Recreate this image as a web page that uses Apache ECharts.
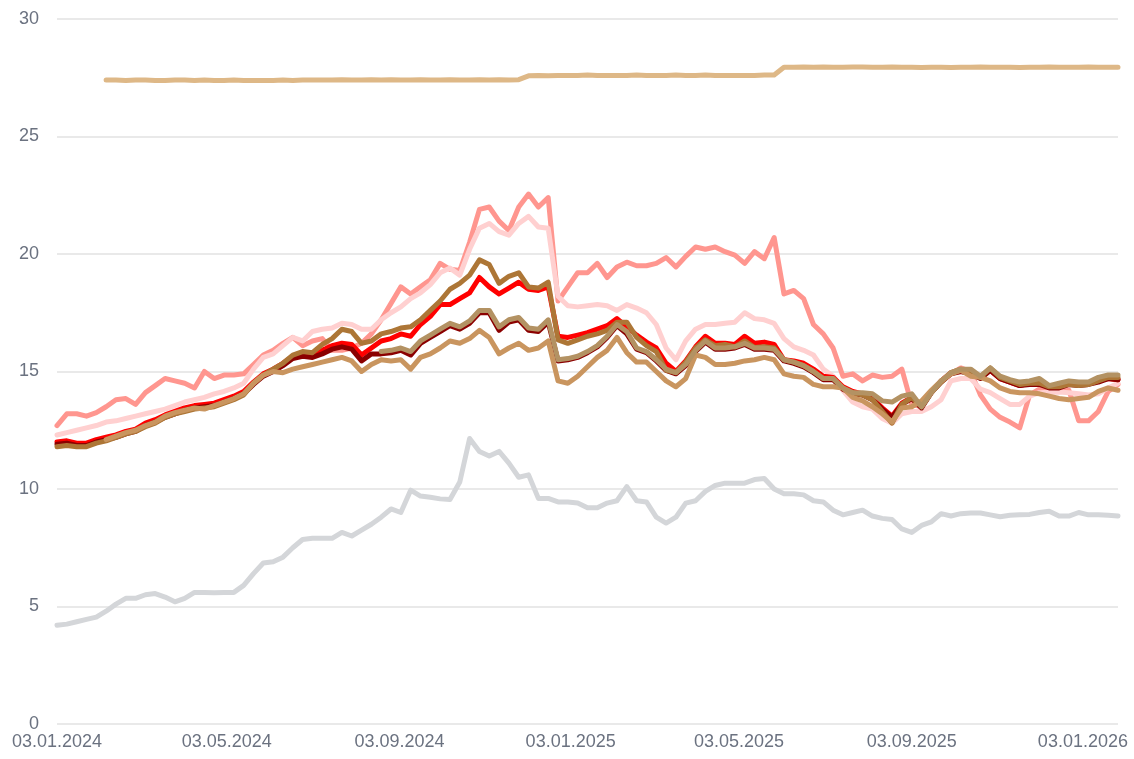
<!DOCTYPE html>
<html>
<head>
<meta charset="utf-8">
<script src="https://cdn.jsdelivr.net/npm/echarts@6/dist/echarts.min.js"></script>
<style>
  html, body { margin: 0; padding: 0; background: #fff; }
  #chart { width: 1134px; height: 759px; }
</style>
</head>
<body>
<div id="chart"></div>
<script>
// weekly sample dates, 03.01.2024 .. 28.01.2026
var dates = []
for (var i = 0; i < 109; i++) {
    dates.push(+new Date(2024, 0, 3 + i * 7))
}

var tickDates = ['2024-01-03', '2024-05-03', '2024-09-03', '2025-01-03', '2025-05-03', '2025-09-03', '2026-01-03']

var grayVals = [4.2, 4.25, 4.35, 4.45, 4.55, 4.8, 5.1, 5.35, 5.35, 5.5, 5.55, 5.4, 5.2, 5.35, 5.6, 5.6, 5.58, 5.6, 5.6, 5.9,
    6.4, 6.85, 6.9, 7.1, 7.5, 7.85, 7.9, 7.9, 7.9, 8.15, 8.0, 8.25, 8.5, 8.8, 9.15, 9.0, 9.95, 9.7, 9.65, 9.58,
    9.55, 10.3, 12.15, 11.6, 11.4, 11.6, 11.1, 10.5, 10.6, 9.6, 9.6, 9.45, 9.45, 9.4, 9.2, 9.2, 9.4, 9.5, 10.1, 9.5,
    9.45, 8.8, 8.55, 8.8, 9.4, 9.5, 9.9, 10.15, 10.25, 10.25, 10.25, 10.4, 10.45, 10.0, 9.8, 9.8, 9.75, 9.5, 9.45, 9.1,
    8.9, 9.0, 9.1, 8.85, 8.75, 8.7, 8.3, 8.15, 8.45, 8.6, 8.95, 8.85, 8.95, 8.98, 8.98, 8.9, 8.82, 8.88, 8.9, 8.92,
    9.0, 9.05, 8.85, 8.85, 9.0, 8.9, 8.9, 8.88, 8.85]

var tanVals = [null, null, null, null, null, 27.4, 27.4, 27.38, 27.4, 27.4, 27.38, 27.38, 27.4, 27.4, 27.38, 27.4, 27.38, 27.38, 27.4, 27.38,
    27.38, 27.38, 27.38, 27.4, 27.38, 27.4, 27.4, 27.4, 27.4, 27.42, 27.4, 27.4, 27.42, 27.4, 27.42, 27.4, 27.4, 27.42, 27.4, 27.4,
    27.42, 27.4, 27.4, 27.42, 27.4, 27.42, 27.4, 27.42, 27.58, 27.6, 27.58, 27.6, 27.6, 27.6, 27.62, 27.6, 27.6, 27.6, 27.6, 27.62,
    27.6, 27.6, 27.6, 27.62, 27.6, 27.6, 27.62, 27.6, 27.6, 27.6, 27.6, 27.6, 27.62, 27.62, 27.95, 27.95, 27.96, 27.95, 27.96, 27.95,
    27.95, 27.96, 27.96, 27.95, 27.95, 27.96, 27.95, 27.95, 27.94, 27.95, 27.95, 27.94, 27.95, 27.95, 27.96, 27.95, 27.95, 27.95, 27.94, 27.95,
    27.95, 27.96, 27.95, 27.95, 27.95, 27.96, 27.95, 27.95, 27.95]

var salmonVals = [12.7, 13.2, 13.2, 13.1, 13.25, 13.5, 13.8, 13.85, 13.6, 14.1, 14.4, 14.7, 14.6, 14.5, 14.3, 15.0, 14.7, 14.85, 14.85, 14.9,
    15.3, 15.7, 15.9, 16.2, 16.45, 16.1, 16.3, 16.4, 15.9, 15.9, 16.0, 16.2, 16.6, 17.2, 17.9, 18.6, 18.3, 18.6, 18.9, 19.6,
    19.35, 19.3, 20.5, 21.9, 22.0, 21.4, 21.0, 22.0, 22.55, 22.0, 22.4, 18.0, 18.6, 19.2, 19.2, 19.6, 19.0, 19.45, 19.65, 19.5,
    19.5, 19.6, 19.85, 19.45, 19.9, 20.3, 20.2, 20.3, 20.1, 19.95, 19.6, 20.1, 19.8, 20.7, 18.3, 18.45, 18.1, 17.0, 16.6, 16.0,
    14.8, 14.9, 14.6, 14.85, 14.75, 14.8, 15.1, 13.6, 13.5, 14.1, 14.6, 14.9, 15.15, 15.0, 14.0, 13.4, 13.05, 12.85, 12.6, 14.0,
    14.25, 14.3, 14.3, 14.2, 12.9, 12.9, 13.3, 14.15, 14.45]

var pinkVals = [12.3, 12.4, 12.5, 12.6, 12.7, 12.85, 12.9, 13.0, 13.1, 13.2, 13.3, 13.4, 13.55, 13.7, 13.8, 13.9, 14.05, 14.15, 14.3, 14.5,
    15.1, 15.6, 15.75, 16.1, 16.45, 16.3, 16.7, 16.8, 16.85, 17.05, 17.0, 16.8, 16.8, 17.2, 17.5, 17.75, 18.1, 18.35, 18.7, 19.2,
    19.4, 19.1, 20.2, 21.1, 21.3, 20.95, 20.8, 21.3, 21.6, 21.15, 21.1, 18.2, 17.8, 17.75, 17.8, 17.85, 17.8, 17.6, 17.85, 17.7,
    17.5, 17.0, 16.0, 15.5, 16.3, 16.8, 17.0, 17.0, 17.05, 17.1, 17.5, 17.25, 17.2, 17.05, 16.4, 16.05, 15.9, 15.7, 15.1, 14.8,
    14.2, 13.7, 13.5, 13.4, 13.0, 12.8, 13.2, 13.3, 13.3, 13.5, 13.8, 14.6, 14.7, 14.7, 14.25, 14.1, 13.85, 13.6, 13.6, 13.95,
    14.1, 14.12, 14.13, 14.1, 14.05, 14.0, 14.05, 14.3, 14.5]

var redVals = [12.0, 12.05, 11.95, 11.95, 12.1, 12.2, 12.3, 12.45, 12.55, 12.8, 12.95, 13.15, 13.3, 13.45, 13.55, 13.6, 13.65, 13.8, 13.95, 14.15,
    14.55, 14.9, 15.1, 15.35, 15.65, 15.75, 15.75, 15.9, 16.1, 16.2, 16.15, 15.7, 16.0, 16.3, 16.4, 16.6, 16.5, 17.0, 17.35, 17.85,
    17.85, 18.1, 18.35, 19.0, 18.6, 18.3, 18.55, 18.8, 18.5, 18.45, 18.6, 16.5, 16.45, 16.55, 16.65, 16.8, 16.95, 17.25, 16.9, 16.55,
    16.25, 16.0, 15.35, 15.0, 15.45, 16.05, 16.5, 16.2, 16.2, 16.15, 16.5, 16.2, 16.25, 16.15, 15.5, 15.45, 15.35, 15.1, 14.8, 14.75,
    14.35, 14.15, 14.05, 13.85, 13.45, 13.1, 13.65, 13.9, 13.5, 14.15, 14.6, 14.95, 15.05, 14.95, 14.75, 15.05, 14.7, 14.55, 14.4, 14.5,
    14.5, 14.35, 14.35, 14.5, 14.45, 14.5, 14.6, 14.7, 14.65]

var darkRedVals = [11.9, 11.95, 11.85, 11.85, 12.0, 12.1, 12.2, 12.35, 12.45, 12.7, 12.85, 13.05, 13.2, 13.35, 13.45, 13.5, 13.55, 13.7, 13.85, 14.05,
    14.45, 14.8, 15.0, 15.25, 15.55, 15.65, 15.6, 15.75, 15.95, 16.05, 15.95, 15.45, 15.75, 15.75, 15.8, 15.9, 15.7, 16.2, 16.45, 16.7,
    16.95, 16.8, 17.05, 17.5, 17.5, 16.75, 17.1, 17.2, 16.75, 16.7, 17.1, 15.45, 15.5, 15.6, 15.8, 16.05, 16.45, 16.95, 16.6, 15.95,
    15.8, 15.45, 15.05, 14.9, 15.25, 15.85, 16.25, 15.95, 15.95, 16.0, 16.15, 15.95, 15.95, 15.9, 15.45, 15.35, 15.2, 14.95, 14.65, 14.65,
    14.25, 14.05, 14.0, 13.8, 13.4, 13.05, 13.6, 13.85, 13.45, 14.1, 14.55, 14.9, 15.0, 14.9, 14.7, 15.05, 14.7, 14.55, 14.4, 14.45,
    14.45, 14.3, 14.3, 14.45, 14.4, 14.45, 14.55, 14.7, 14.65]

var brownVals = [11.8, 11.85, 11.8, 11.8, 11.95, 12.05, 12.2, 12.35, 12.45, 12.65, 12.8, 13.05, 13.2, 13.3, 13.4, 13.45, 13.5, 13.65, 13.8, 14.0,
    14.5, 14.85, 15.1, 15.35, 15.7, 15.85, 15.8, 16.15, 16.4, 16.8, 16.7, 16.2, 16.3, 16.6, 16.7, 16.85, 16.9, 17.2, 17.6, 18.0,
    18.5, 18.75, 19.1, 19.75, 19.55, 18.75, 19.05, 19.2, 18.6, 18.55, 18.8, 16.35, 16.2, 16.35, 16.5, 16.6, 16.75, 17.1, 17.1, 16.45,
    16.1, 15.85, 15.05, 14.95, 15.4, 16.0, 16.35, 16.1, 16.15, 16.05, 16.3, 16.02, 16.05, 16.0, 15.5, 15.4, 15.25, 15.0, 14.7, 14.7,
    14.3, 14.1, 14.0, 13.8, 13.3, 12.8, 13.6, 13.9, 13.5, 14.1, 14.55, 14.95, 15.1, 14.95, 14.75, 15.15, 14.75, 14.6, 14.45, 14.5,
    14.5, 14.35, 14.35, 14.45, 14.4, 14.45, 14.6, 14.75, 14.75]

var lightTanVals = [null, null, null, null, null, 12.1, 12.25, 12.4, 12.5, 12.7, 12.85, 13.1, 13.25, 13.35, 13.45, 13.4, 13.55, 13.7, 13.85, 14.05,
    14.5, 14.85, 15.0, 14.95, 15.1, 15.2, 15.3, 15.4, 15.5, 15.6, 15.45, 15.0, 15.3, 15.5, 15.45, 15.5, 15.1, 15.6, 15.75, 16.0,
    16.3, 16.2, 16.4, 16.75, 16.45, 15.75, 16.0, 16.2, 15.9, 16.0, 16.3, 14.6, 14.5, 14.8, 15.2, 15.6, 15.9, 16.45, 15.8, 15.4,
    15.4, 15.0, 14.6, 14.35, 14.7, 15.7, 15.6, 15.3, 15.3, 15.35, 15.45, 15.5, 15.6, 15.5, 14.9, 14.8, 14.75, 14.45, 14.35, 14.35,
    14.3, 13.9, 13.75, 13.5, 13.2, 12.85, 13.45, 13.5, 13.75, 14.2, 14.6, 14.9, 15.05, 14.8, 14.75, 14.6, 14.3, 14.15, 14.1, 14.1,
    14.05, 13.95, 13.85, 13.8, 13.85, 13.9, 14.15, 14.3, 14.2]

var grayTanVals = [null, null, null, null, null, null, null, null, null, null, null, null, null, null, null, null, null, null, null, null,
    null, null, null, null, null, null, null, null, null, null, null, null, null, 15.85, 15.9, 16.0, 15.85, 16.3, 16.55, 16.8,
    17.05, 16.9, 17.15, 17.6, 17.6, 16.9, 17.2, 17.3, 16.85, 16.8, 17.2, 15.5, 15.55, 15.65, 15.85, 16.1, 16.5, 17.0, 16.7, 16.0,
    15.85, 15.5, 15.1, 14.95, 15.3, 15.9, 16.3, 16.0, 16.0, 16.05, 16.2, 16.0, 16.0, 15.95, 15.5, 15.4, 15.25, 15.0, 14.7, 14.7,
    14.3, 14.1, 14.1, 14.05, 13.75, 13.7, 13.95, 14.05, 13.5, 14.1, 14.6, 14.95, 15.1, 15.1, 14.8, 15.15, 14.8, 14.65, 14.55, 14.6,
    14.7, 14.4, 14.5, 14.6, 14.55, 14.55, 14.75, 14.85, 14.85]

function pairs(vals) {
    var out = []
    for (var i = 0; i < vals.length; i++) {
        if (vals[i] != null) out.push([dates[i], vals[i]])
    }
    return out
}

function lineSeries(name, vals, color) {
    return {
        name: name,
        type: 'line',
        data: pairs(vals),
        showSymbol: false,
        symbol: 'none',
        smooth: false,
        lineStyle: { width: 5, color: color, cap: 'round', join: 'round' },
        itemStyle: { color: color },
        emphasis: { disabled: true },
    }
}

function pad(n) {
    return (n < 10 ? '0' : '') + n
}

var tickTimes = tickDates.map(function (s) {
    var p = s.split('-')
    return +new Date(+p[0], +p[1] - 1, +p[2])
})

var myChart = echarts.init(document.getElementById('chart'))
var option = {
    animation: false,
    backgroundColor: '#ffffff',
    grid: { left: 57, right: 16, top: 19, bottom: 35 },
    xAxis: {
        type: 'value',
        min: dates[0],
        max: dates[dates.length - 1],
        axisLine: { show: false },
        axisTick: { show: false },
        splitLine: { show: false },
        axisLabel: {
            customValues: tickTimes,
            formatter: function (v) {
                var d = new Date(v)
                return pad(d.getDate()) + '.' + pad(d.getMonth() + 1) + '.' + d.getFullYear()
            },
            color: '#6b7280',
            fontSize: 18,
            fontFamily: 'Liberation Sans, Arial, sans-serif',
            margin: 9,
            hideOverlap: false,
            showMinLabel: true,
            showMaxLabel: true,
        },
    },
    yAxis: {
        type: 'value',
        min: 0,
        max: 30,
        interval: 5,
        axisLine: { show: false },
        axisTick: { show: false },
        axisLabel: {
            color: '#6b7280',
            fontSize: 18,
            fontFamily: 'Liberation Sans, Arial, sans-serif',
            margin: 18,
        },
        splitLine: { lineStyle: { color: '#e2e2e2', width: 1.5 } },
    },
    series: [
        lineSeries('gray', grayVals, '#d4d6d9'),
        lineSeries('tan', tanVals, '#deb887'),
        lineSeries('salmon', salmonVals, '#ff968f'),
        lineSeries('pink', pinkVals, '#ffd0d0'),
        lineSeries('red', redVals, '#ff0000'),
        lineSeries('darkred', darkRedVals, '#8b0000'),
        lineSeries('brown', brownVals, '#ad7636'),
        lineSeries('lighttan', lightTanVals, '#c9955f'),
        lineSeries('graytan', grayTanVals, '#b39263'),
    ],
}
myChart.setOption(option)
</script>
</body>
</html>
